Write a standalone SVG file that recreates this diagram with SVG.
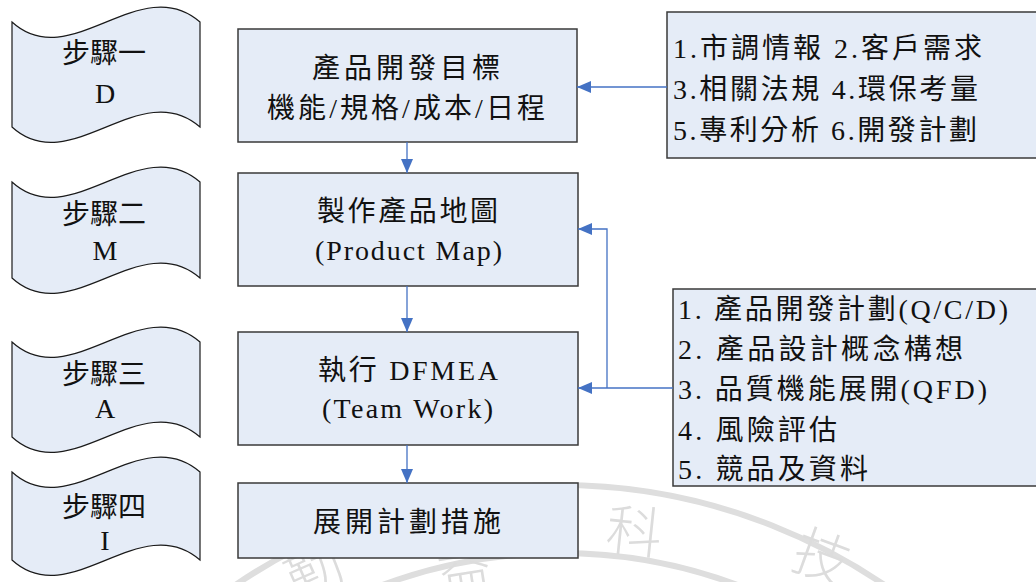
<svg xmlns="http://www.w3.org/2000/svg" width="1036" height="582" viewBox="0 0 1036 582">
  <defs>
    <style>
      .box { fill: #E5ECF7; stroke: #3a3a3a; stroke-width: 1.5; }
      .flag { fill: #E5ECF7; stroke: #1a1a1a; stroke-width: 1.2; }
      .txt { font-family: "Liberation Serif", "Noto Sans CJK TC", serif; font-size: 28px; fill: #111; }
      .mid { text-anchor: middle; }
      .link { fill: none; stroke: #4472C4; stroke-width: 1.3; }
      .seal { fill: none; stroke: #dedede; stroke-width: 6; }
      .sealtxt { font-family: "Noto Sans CJK TC", sans-serif; font-size: 56px; font-weight: 300; fill: #dcdcdc; text-anchor: middle; }
    </style>
    <marker id="arrow" markerUnits="userSpaceOnUse" markerWidth="14" markerHeight="12" refX="14" refY="6" orient="auto">
      <path d="M0,0 L14,6 L0,12 z" fill="#4472C4"/>
    </marker>
  </defs>

  <rect width="1036" height="582" fill="#ffffff"/>

  <!-- faint seal in the background -->
  <g id="seal">
    <circle class="seal" cx="560" cy="1061" r="576"/>
    <circle class="seal" cx="560" cy="1061" r="508" stroke-width="5"/>
    <text class="sealtxt" transform="translate(322,590) rotate(-24)">勤</text>
    <text class="sealtxt" transform="translate(468,590) rotate(-9)">益</text>
    <text class="sealtxt" fill="#d8d8e8" transform="translate(632,552) rotate(6)">科</text>
    <text class="sealtxt" transform="translate(815,576) rotate(20)">技</text>
  </g>

  <!-- step banners -->
  <g id="step1">
    <path class="flag" d="M12,22 C70,75 140,-30 200,22 L200,127 C140,75 70,180 12,127 Z"/>
    <text class="txt mid" x="104" y="63">步驟一</text>
    <text class="txt mid" x="105" y="103">D</text>
  </g>
  <g id="step2">
    <path class="flag" d="M12,182 C70,235 140,130 200,182 L200,278 C140,226 70,331 12,278 Z"/>
    <text class="txt mid" x="104" y="224">步驟二</text>
    <text class="txt mid" x="105" y="260">M</text>
  </g>
  <g id="step3">
    <path class="flag" d="M12,342 C70,395 140,290 200,342 L200,437 C140,385 70,490 12,437 Z"/>
    <text class="txt mid" x="104" y="384">步驟三</text>
    <text class="txt mid" x="105" y="418">A</text>
  </g>
  <g id="step4">
    <path class="flag" d="M12,472 C70,525 140,420 200,472 L200,560 C140,508 70,613 12,560 Z"/>
    <text class="txt mid" x="104" y="517">步驟四</text>
    <text class="txt mid" x="105" y="550">I</text>
  </g>

  <!-- process boxes -->
  <g id="goal">
    <rect class="box" x="238" y="29" width="339" height="113"/>
    <text class="txt" x="312" y="78" textLength="188" lengthAdjust="spacing">產品開發目標</text>
    <text class="txt" x="267" y="118" textLength="278" lengthAdjust="spacing">機能/規格/成本/日程</text>
  </g>
  <g id="product-map">
    <rect class="box" x="238" y="173" width="340" height="113"/>
    <text class="txt" x="317" y="221" textLength="181" lengthAdjust="spacing">製作產品地圖</text>
    <text class="txt" x="315" y="260" textLength="187" lengthAdjust="spacing">(Product Map)</text>
  </g>
  <g id="dfmea">
    <rect class="box" x="238" y="332" width="340" height="113"/>
    <text class="txt" x="318" y="380" textLength="180" lengthAdjust="spacing">執行 DFMEA</text>
    <text class="txt" x="322" y="418" textLength="171" lengthAdjust="spacing">(Team Work)</text>
  </g>
  <g id="action">
    <rect class="box" x="238" y="483" width="340" height="75"/>
    <text class="txt" x="313" y="532" textLength="188" lengthAdjust="spacing">展開計劃措施</text>
  </g>

  <!-- input lists -->
  <g id="inputs">
    <rect class="box" x="667" y="12" width="380" height="146"/>
    <text class="txt" x="673" y="58" textLength="309" lengthAdjust="spacing">1.市調情報 2.客戶需求</text>
    <text class="txt" x="673" y="99" textLength="305" lengthAdjust="spacing">3.相關法規 4.環保考量</text>
    <text class="txt" x="673" y="140" textLength="304" lengthAdjust="spacing">5.專利分析 6.開發計劃</text>
  </g>
  <g id="tools">
    <rect class="box" x="673" y="289" width="380" height="197"/>
    <text class="txt" x="678" y="319" textLength="330" lengthAdjust="spacing">1. 產品開發計劃(Q/C/D)</text>
    <text class="txt" x="678" y="359" textLength="285" lengthAdjust="spacing">2. 產品設計概念構想</text>
    <text class="txt" x="678" y="399" textLength="309" lengthAdjust="spacing">3. 品質機能展開(QFD)</text>
    <text class="txt" x="678" y="440" textLength="159" lengthAdjust="spacing">4. 風險評估</text>
    <text class="txt" x="678" y="479" textLength="190" lengthAdjust="spacing">5. 競品及資料</text>
  </g>

  <!-- connectors -->
  <g id="connectors">
    <path class="link" d="M407,142 V173" marker-end="url(#arrow)"/>
    <path class="link" d="M407,286 V332" marker-end="url(#arrow)"/>
    <path class="link" d="M407,445 V483" marker-end="url(#arrow)"/>
    <path class="link" d="M667,87 H577" marker-end="url(#arrow)"/>
    <path class="link" d="M673,388 H578" marker-end="url(#arrow)"/>
    <path class="link" d="M607,388 V229 H578" marker-end="url(#arrow)"/>
  </g>
</svg>
